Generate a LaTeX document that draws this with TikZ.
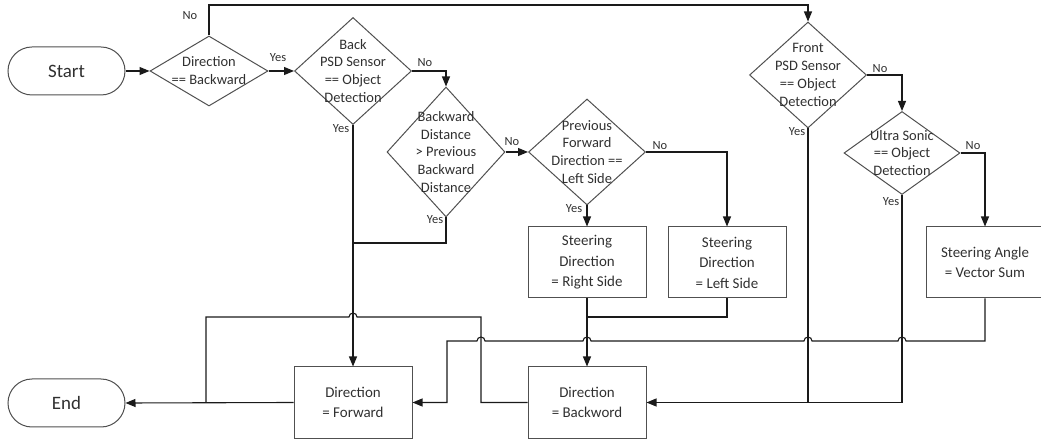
\documentclass[tikz,border=0pt]{standalone}
\usepackage{fontspec}
\setmainfont{Carlito}
\usetikzlibrary{shapes.geometric,shapes.misc,arrows.meta}
\definecolor{bordc}{HTML}{505050}
\definecolor{linec}{HTML}{1A1A1A}
\definecolor{txtc}{HTML}{303030}
\begin{document}
\begin{tikzpicture}[x=1bp,y=-1bp,
  every node/.style={text=txtc},
  dia/.style={diamond, draw=bordc, line width=1bp, inner sep=0pt},
  diatext/.style={align=center, inner sep=0pt, font=\fontsize{14.5}{18}\selectfont},
  boxnode/.style={rectangle, draw=bordc, line width=1bp, minimum width=118bp, minimum height=71bp, align=center, inner sep=0pt, font=\fontsize{15}{20.5}\selectfont},
  term/.style={rounded rectangle, draw=bordc, line width=1bp, minimum width=117bp, minimum height=48bp, inner sep=0pt, font=\fontsize{19}{22}\selectfont},
  conn/.style={draw=linec, line width=1.1bp},
  arr/.style={conn, -{Triangle[length=10bp,width=8bp]}},
  lbl/.style={font=\fontsize{12.5}{14}\selectfont, inner sep=0pt}
]
\useasboundingbox (0,0) rectangle (1041,441);

% terminals
\node[term] (start) at (66.5,71) {Start};
\node[term] (end) at (66.5,403) {End};

% decisions
\node[dia, minimum width=118bp, minimum height=70bp] (d1) at (209,71) {};
\node[diatext] at (d1) {Direction\\== Backward};
\node[dia, minimum width=117bp, minimum height=107bp] (d2) at (353,71) {};
\node[diatext] at (d2) {Back\\PSD Sensor\\== Object\\Detection};
\node[dia, minimum width=118bp, minimum height=130bp] (d3) at (446,152) {};
\node[diatext] at (d3) {Backward\\Distance\\> Previous\\Backward\\Distance};
\node[dia, minimum width=117bp, minimum height=106bp] (d4) at (587,152) {};
\node[diatext] at (d4) {Previous\\Forward\\Direction ==\\Left Side};
\node[dia, minimum width=117bp, minimum height=106bp] (front) at (808,75) {};
\node[diatext] at (front) {Front\\PSD Sensor\\== Object\\Detection};
\node[dia, minimum width=116bp, minimum height=83bp] (us) at (902,153) {};
\node[diatext] at (us) {Ultra Sonic\\== Object\\Detection};

% process boxes
\node[boxnode] (rs) at (587,262.5) {Steering\\Direction\\= Right Side};
\node[boxnode] (ls) at (727,262.5) {Steering\\Direction\\= Left Side};
\node[boxnode] (va) at (985,262.5) {Steering Angle\\= Vector Sum};
\node[boxnode] (fwd) at (353,402.5) {Direction\\= Forward};
\node[boxnode] (back) at (587,402.5) {Direction\\= Backword};

% helper coordinates
\coordinate (t1) at (209,5);
\coordinate (j1) at (353,243);
\coordinate (j2) at (808,402.5);
\coordinate (j3) at (587,317);
\coordinate (j4) at (206,402.5);

% connectors
\draw[arr] (start.east) -- (d1.west);
\draw[arr] (d1.north) -- (t1) -| (front.north);
\draw[arr] (d1.east) -- (d2.west);
\draw[arr] (d2.east) -| (d3.north);
\draw[arr] (d2.south) -- (fwd.north);
\draw[conn] (d3.south) |- (j1);
\draw[arr] (d3.east) -- (d4.west);
\draw[arr] (d4.south) -- (rs.north);
\draw[arr] (d4.east) -| (ls.north);
\draw[conn] (front.south) -- (j2);
\draw[arr] (front.east) -| (us.north);
\draw[arr] (us.south) |- (back.east);
\draw[arr] (us.east) -| (va.north);
\draw[arr] (rs.south) -- (back.north);
\draw[conn] (ls.south) |- (j3);
\draw[arr] (va.south) -- (985,341) -- (906,341)
  arc[start angle=0, end angle=180, radius=4bp] -- (812,341)
  arc[start angle=0, end angle=180, radius=4bp] -- (591,341)
  arc[start angle=0, end angle=180, radius=4bp] -- (485,341)
  arc[start angle=0, end angle=180, radius=4bp] -- (447,341) -- (447,402.5) -- (fwd.east);
\draw[conn] (back.west) -- (481,402.5) -- (481,317) -- (357,317)
  arc[start angle=0, end angle=180, radius=4bp] -- (206,317) -- (j4);
\draw[arr] (fwd.west) -- (end.east);

% labels
\node[lbl] at (190,16) {No};
\node[lbl] at (278,58) {Yes};
\node[lbl] at (425,63) {No};
\node[lbl] at (341,129) {Yes};
\node[lbl] at (512,142) {No};
\node[lbl] at (435,220) {Yes};
\node[lbl] at (660,146) {No};
\node[lbl] at (574,209) {Yes};
\node[lbl] at (880,69) {No};
\node[lbl] at (797,132) {Yes};
\node[lbl] at (973,146) {No};
\node[lbl] at (891,202) {Yes};
\end{tikzpicture}
\end{document}
